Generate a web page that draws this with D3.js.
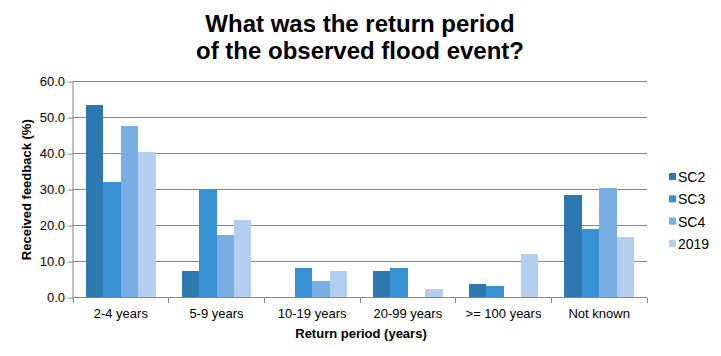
<!DOCTYPE html>
<html><head><meta charset="utf-8">
<script src="https://cdn.jsdelivr.net/npm/d3@7"></script>
<style>body{margin:0;background:#fff}svg{display:block;font-family:Arial,"Liberation Sans",sans-serif}</style>
</head><body>
<svg id="c" width="721" height="356"></svg>
<script>
const categories = ["2-4 years","5-9 years","10-19 years","20-99 years",">= 100 years","Not known"];
const seriesNames = ["SC2","SC3","SC4","2019"];
const sc2 = [53.5, 7.4, 0, 7.4, 3.8, 28.5];
const sc3 = [32.1, 30.1, 8.2, 8.2, 3.2, 19.0];
const sc4 = [47.7, 17.4, 4.6, 0, 0, 30.5];
const y2019 = [40.5, 21.6, 7.4, 2.3, 12.1, 16.8];
const yTicks = [0,10,20,30,40,50,60];
const colors = ["#2E78B0","#3891D2","#78AEE3","#B3CEEE"];

const values = [sc2, sc3, sc4, y2019];
const svg = d3.select("#c");
const L = 73, R = 647, T = 81.7, B = 297.7;

const x0 = d3.scaleBand().domain(categories).range([L, R]).paddingInner(0.27).paddingOuter(0.135);
const x1 = d3.scaleBand().domain(seriesNames).range([0, x0.bandwidth()]);
const y = d3.scaleLinear().domain([0, 60]).range([B, T]);

// grid
svg.append("g").selectAll("line").data(yTicks.filter(d=>d>0)).join("line")
  .attr("x1", L).attr("x2", R).attr("y1", d=>y(d)).attr("y2", d=>y(d))
  .attr("stroke", "#868686").attr("stroke-width", 1).attr("shape-rendering","crispEdges");

// bars
const data = [];
categories.forEach((c, i) => seriesNames.forEach((s, j) => data.push({c, s, v: values[j][i], j})));
svg.append("g").selectAll("rect").data(data).join("rect")
  .attr("x", d => x0(d.c) + x1(d.s)).attr("width", x1.bandwidth())
  .attr("y", d => y(d.v)).attr("height", d => B - y(d.v))
  .attr("fill", d => colors[d.j]).attr("shape-rendering","crispEdges");

// y axis
const yAxis = d3.axisLeft(y).tickValues(yTicks).tickFormat(d3.format(".1f")).tickSize(5).tickPadding(3);
const gy = svg.append("g").attr("transform", `translate(${L},0)`).call(yAxis);
gy.select(".domain").attr("stroke","#868686").attr("d", `M0,${T}V${B}`);
gy.selectAll(".tick line").attr("stroke","#868686");
gy.selectAll("text").attr("font-size", 13).attr("fill","#000").attr("font-family","Arial");

// x axis
const xEdges = d3.range(categories.length + 1).map(i => L + i * (R - L) / categories.length);
svg.append("line").attr("x1", L).attr("x2", R).attr("y1", B).attr("y2", B).attr("stroke","#868686").attr("shape-rendering","crispEdges");
svg.append("g").selectAll("line").data(xEdges).join("line")
  .attr("x1", d=>d).attr("x2", d=>d).attr("y1", B).attr("y2", B+5).attr("stroke","#868686").attr("shape-rendering","crispEdges");
svg.append("g").selectAll("text").data(categories).join("text")
  .attr("x", d => x0(d) + x0.bandwidth()/2).attr("y", 318)
  .attr("text-anchor","middle").attr("font-size", 13).text(d => d);

// axis titles
svg.append("text").attr("x", 361).attr("y", 338).attr("text-anchor","middle")
  .attr("font-size", 13).attr("font-weight","bold").text("Return period (years)");
svg.append("text").attr("transform", `translate(31,${(T+B)/2}) rotate(-90)`).attr("text-anchor","middle")
  .attr("font-size", 13).attr("font-weight","bold").text("Received feedback (%)");

// title
const title = svg.append("text").attr("text-anchor","middle").attr("font-size", 24).attr("font-weight","bold");
title.append("tspan").attr("x", 360).attr("y", 32).text("What was the return period");
title.append("tspan").attr("x", 360).attr("y", 59).text("of the observed flood event?");

// legend
const lg = svg.append("g").selectAll("g").data(seriesNames).join("g")
  .attr("transform", (d,i) => `translate(669,${177 + i*22.3})`);
lg.append("rect").attr("x", 0).attr("y", -4).attr("width", 7).attr("height", 7).attr("fill", (d,i)=>colors[i]);
lg.append("text").attr("x", 9).attr("y", 5).attr("font-size", 14).text(d => d);
</script>
</body></html>
